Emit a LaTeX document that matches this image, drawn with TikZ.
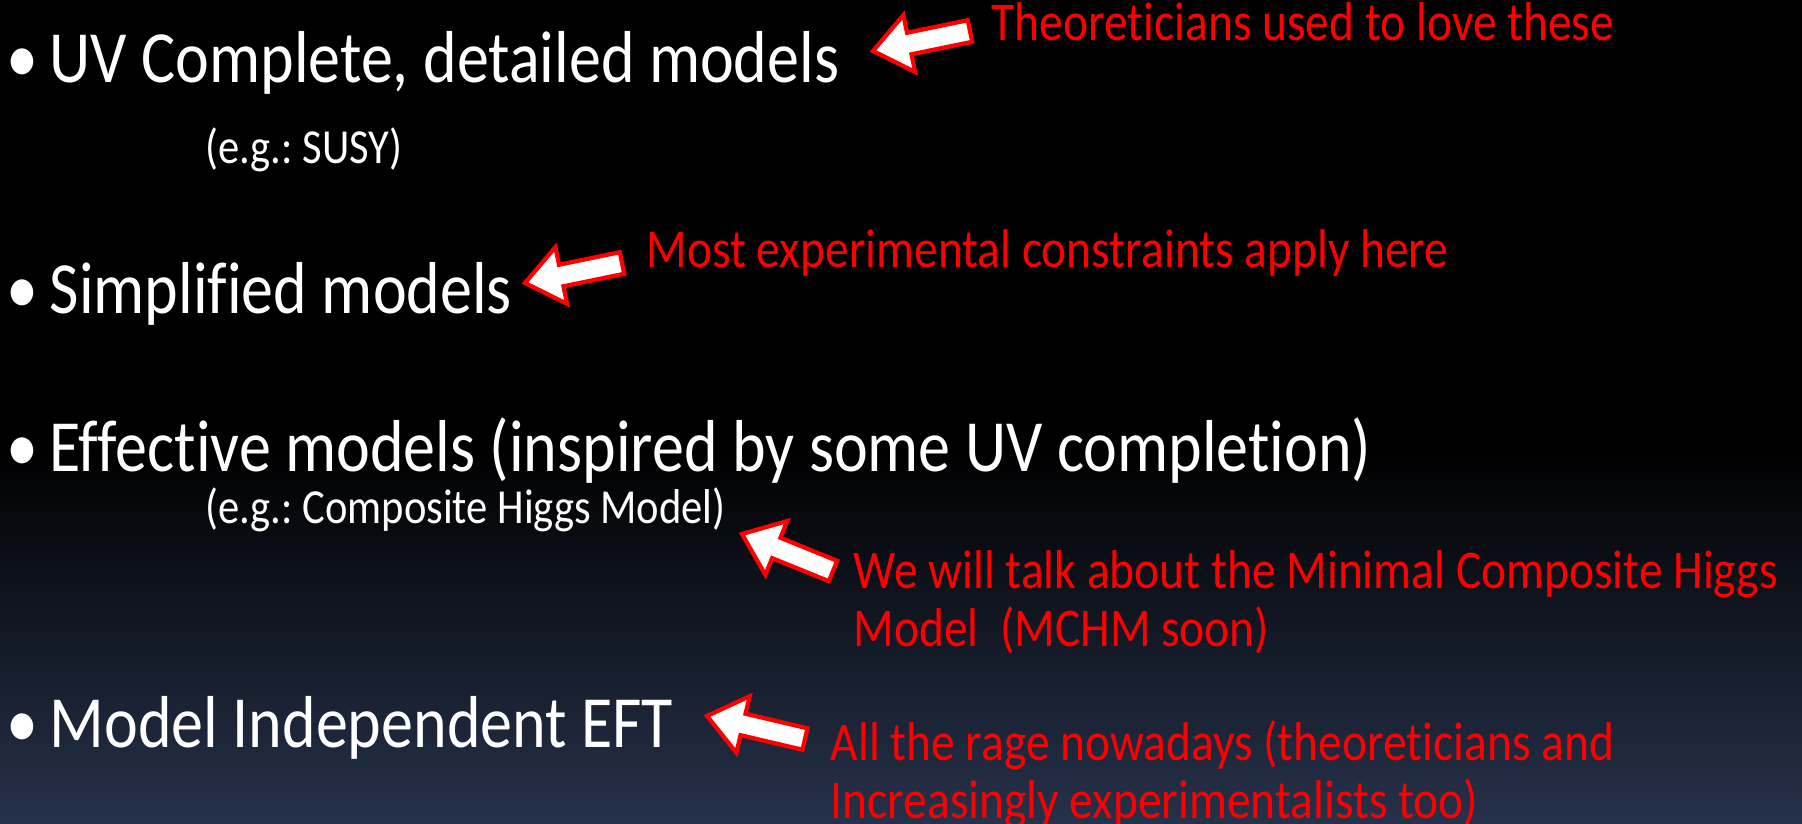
\documentclass[tikz,border=0pt]{standalone}
\usepackage{fontspec}
\setmainfont{Carlito}[Ligatures=NoCommon]
\frenchspacing
\usetikzlibrary{calc}
\definecolor{notered}{RGB}{255,0,0}
\definecolor{bgnavy}{RGB}{38,50,75}

% block arrow from tail coordinate #1 to tip coordinate #2
\newcommand{\blockarrow}[2]{%
  \coordinate (h) at ($(#2)!0.37cm!(#1)$);
  \draw[blockarr] (#2) -- ($(h)!0.29cm!90:(#1)$) -- ($(h)!0.11cm!90:(#1)$)
    -- ($(#1)!0.11cm!-90:(h)$) -- ($(#1)!0.11cm!90:(h)$)
    -- ($(h)!0.11cm!-90:(#1)$) -- ($(h)!0.29cm!-90:(#1)$) -- cycle;}

\begin{document}
\begin{tikzpicture}
[x=0.01cm,y=-0.01cm,%
  slide/.style={anchor=base west,inner sep=0pt,yscale=1.15,transform shape},%
  item/.style={slide,text=white,font=\fontsize{18.2}{22}\selectfont},%
  example/.style={slide,text=white,font=\fontsize{12.1}{15}\selectfont},%
  note/.style={slide,text=notered,align=left,font=\fontsize{13.5}{14.1}\selectfont},%
  blockarr/.style={draw=notered,fill=white,line width=1.2pt,line join=miter}]
\useasboundingbox (0,0) rectangle (1802,824);
\fill[black] (0,0) rectangle (1802,451);
\shade[top color=black,bottom color=bgnavy] (0,450) rectangle (1802,824);

% the four kinds of models
\node[item] (uv) at (49,83) {\llap{•\hspace{0.17em}}UV Complete, detailed models};
\node[example] (uvex) at (205,163) {(e.g.: SUSY)};
\node[item] (simp) at (49,313) {\llap{•\hspace{0.17em}}Simplified models};
\node[item] (eff) at (49,471) {\llap{•\hspace{0.17em}}Effective models (inspired by some UV completion)};
\node[example] (effex) at (205,523) {(e.g.: Composite Higgs Model)};
\node[item] (indep) at (49,747) {\llap{•\hspace{0.17em}}Model Independent EFT};

% comments
\node[note] (theo) at (991,41) {Theoreticians used to love these};
\node[note] (constr) at (646,267) {Most experimental constraints apply here};
\node[note] (mchm) at (853,646) {We will talk about the Minimal Composite Higgs\\Model~~(MCHM soon)};
\node[note] (rage) at (830,818) {All the rage nowadays (theoreticians and\\Increasingly experimentalists too)};

% arrows
\coordinate (t1) at (970,31);  \coordinate (p1) at (873,51);
\coordinate (t2) at (622,263); \coordinate (p2) at (525,283);
\coordinate (t3) at (833,571); \coordinate (p3) at (742,534);
\coordinate (t4) at (805,739); \coordinate (p4) at (707,716);
\blockarrow{t1}{p1}
\blockarrow{t2}{p2}
\blockarrow{t3}{p3}
\blockarrow{t4}{p4}
\end{tikzpicture}
\end{document}
